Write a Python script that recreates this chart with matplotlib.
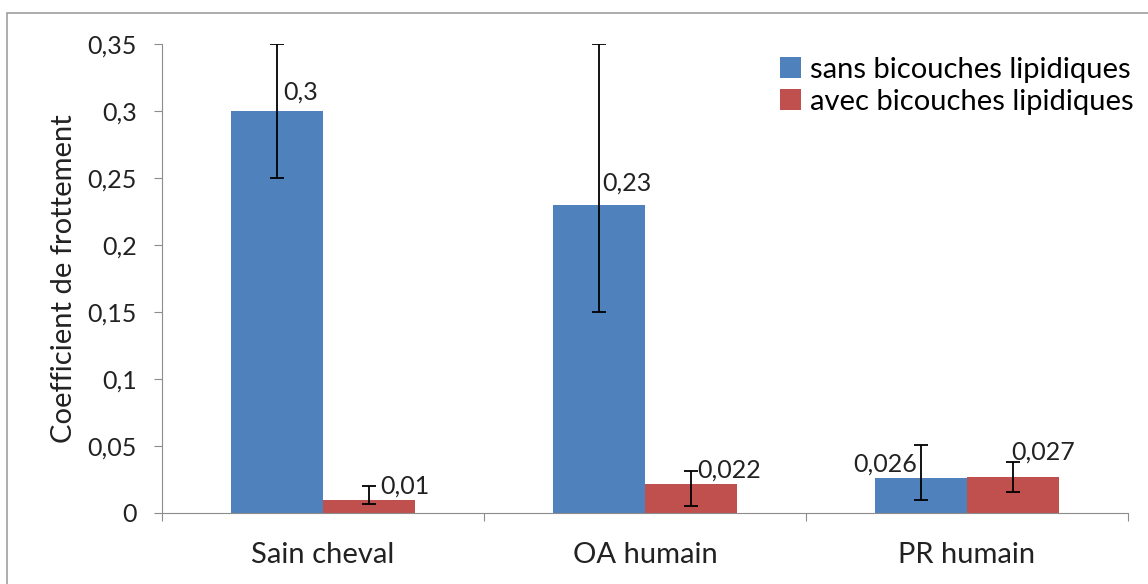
import matplotlib
matplotlib.use("Agg")
import matplotlib.pyplot as plt
import numpy as np

# donnees du graphique
categories = ["Sain cheval", "OA humain", "PR humain"]
sans = [0.3, 0.23, 0.026]
avec = [0.01, 0.022, 0.027]
sans_err_bas = [0.05, 0.08, 0.016]
sans_err_haut = [0.05, 0.12, 0.025]
avec_err_bas = [0.0035, 0.017, 0.011]
avec_err_haut = [0.0105, 0.009, 0.011]
sans_labels = ["0,3", "0,23", "0,026"]
avec_labels = ["0,01", "0,022", "0,027"]
yticks = [0, 0.05, 0.1, 0.15, 0.2, 0.25, 0.3, 0.35]
ytick_labels = ["0", "0,05", "0,1", "0,15", "0,2", "0,25", "0,3", "0,35"]

# decalage des etiquettes (pixels)
sans_off = [(24, 19), (28, 22), (-36, 14)]
avec_off = [(36, 14), (38, 13), (30, 25)]

plt.rcParams["font.family"] = ["Lato", "DejaVu Sans"]

blue = "#4F81BD"
red = "#C0504D"
grey = "#8c8c8c"
txt = "#222222"

fig = plt.figure(figsize=(11.48, 5.84), dpi=100)
ax = fig.add_axes([162/1148, 1-513/584, (1128-162)/1148, (513-44)/584])

# cadre exterieur
fig.patches.append(plt.Rectangle((7/1148, -0.05), 1.1, 1-13/584+0.05,
                                 transform=fig.transFigure, fill=False,
                                 edgecolor="#a0a0a0", linewidth=1.2))

x = np.arange(len(categories))
w = 0.285

ax.bar(x - w/2, sans, w, color=blue, label="sans bicouches lipidiques", zorder=2)
ax.bar(x + w/2, avec, w, color=red, label="avec bicouches lipidiques", zorder=2)
ax.errorbar(x - w/2, sans, yerr=[sans_err_bas, sans_err_haut], fmt="none",
            ecolor="black", elinewidth=1.3, capsize=5, capthick=1.3, zorder=3)
ax.errorbar(x + w/2, avec, yerr=[avec_err_bas, avec_err_haut], fmt="none",
            ecolor="black", elinewidth=1.3, capsize=5, capthick=1.3, zorder=3)

for i in range(len(categories)):
    ax.annotate(sans_labels[i], (x[i] - w/2, sans[i]), xytext=sans_off[i],
                textcoords="offset pixels", ha="center", va="center",
                fontsize=18, color=txt)
    ax.annotate(avec_labels[i], (x[i] + w/2, avec[i]), xytext=avec_off[i],
                textcoords="offset pixels", ha="center", va="center",
                fontsize=18, color=txt)

ax.set_xlim(-0.5, 2.5)
ax.set_ylim(0, 0.35)
ax.set_yticks(yticks)
ax.set_yticklabels(ytick_labels, fontsize=18, color=txt)
ax.set_xticks([-0.5, 0.5, 1.5, 2.5])
ax.set_xticklabels([])
ax.set_xticks(x, minor=True)
ax.set_xticklabels(categories, minor=True, fontsize=21, color=txt)
ax.tick_params(axis="x", which="minor", length=0, pad=21)
ax.tick_params(axis="x", which="major", length=6, color=grey)
ax.tick_params(axis="y", length=6, color=grey, pad=12)

for s in ["top", "right"]:
    ax.spines[s].set_visible(False)
ax.spines["left"].set_color(grey)
ax.spines["bottom"].set_color(grey)

ax.set_ylabel("Coefficient de frottement", fontsize=21, color=txt, labelpad=7.5)

ax.legend(loc="upper left", bbox_to_anchor=(0.622, 1.01), frameon=False,
          fontsize=21, handlelength=0.7, handleheight=0.7, handletextpad=0.3,
          labelspacing=0.2, borderaxespad=0.2)

fig.savefig("out.png", dpi=100)
